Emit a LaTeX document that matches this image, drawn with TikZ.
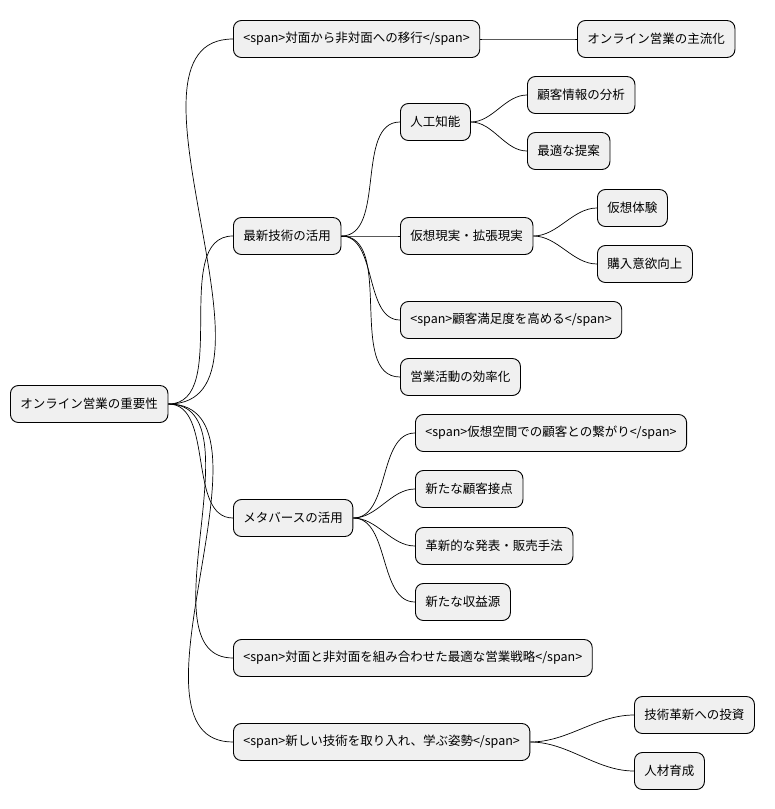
\documentclass[tikz,border=0pt]{standalone}
\usepackage{fontspec}
\setmainfont{Noto Sans CJK JP}
\usetikzlibrary{positioning}

\tikzset{
  topic/.style={draw, fill=black!6, rounded corners=8pt, line width=0.9pt,
    minimum height=37pt, inner xsep=10pt, anchor=west,
    font=\fontsize{12.5}{14}\selectfont},
  link/.style={line width=0.7pt, out=0, in=180, looseness=0.9}
}

\begin{document}
\begin{tikzpicture}[x=1pt, y=-1pt]
  \useasboundingbox (0,0) rectangle (775,809);

  % Root
  \node[topic] (root) at (10,404) {オンライン営業の重要性};

  % First level
  \node[topic] (shift) at (233,39) {<span>対面から非対面への移行</span>};
  \node[topic] (tech) at (233,236) {最新技術の活用};
  \node[topic] (meta) at (233,518) {メタバースの活用};
  \node[topic] (mix) at (233,658) {<span>対面と非対面を組み合わせた最適な営業戦略</span>};
  \node[topic] (learn) at (233,742) {<span>新しい技術を取り入れ、学ぶ姿勢</span>};

  % Second level
  \node[topic] (main) at (577,39) {オンライン営業の主流化};

  \node[topic] (ai) at (400,122) {人工知能};
  \node[topic] (vr) at (400,236) {仮想現実・拡張現実};
  \node[topic] (cs) at (400,320) {<span>顧客満足度を高める</span>};
  \node[topic] (eff) at (400,377) {営業活動の効率化};

  \node[topic] (link1) at (415,433) {<span>仮想空間での顧客との繋がり</span>};
  \node[topic] (touch) at (415,489) {新たな顧客接点};
  \node[topic] (sale) at (415,546) {革新的な発表・販売手法};
  \node[topic] (rev) at (415,602) {新たな収益源};

  \node[topic] (invest) at (634,715) {技術革新への投資};
  \node[topic] (hr) at (634,771) {人材育成};

  % Third level
  \node[topic] (ana) at (527,95) {顧客情報の分析};
  \node[topic] (prop) at (527,151) {最適な提案};
  \node[topic] (exp) at (597,208) {仮想体験};
  \node[topic] (buy) at (597,264) {購入意欲向上};

  % Connectors
  \foreach \a/\b in {root/shift, root/tech, root/meta, root/mix, root/learn,
      shift/main, tech/ai, tech/vr, tech/cs, tech/eff,
      meta/link1, meta/touch, meta/sale, meta/rev,
      learn/invest, learn/hr, ai/ana, ai/prop, vr/exp, vr/buy}
    \draw[link] (\a.east) to (\b.west);
\end{tikzpicture}
\end{document}
